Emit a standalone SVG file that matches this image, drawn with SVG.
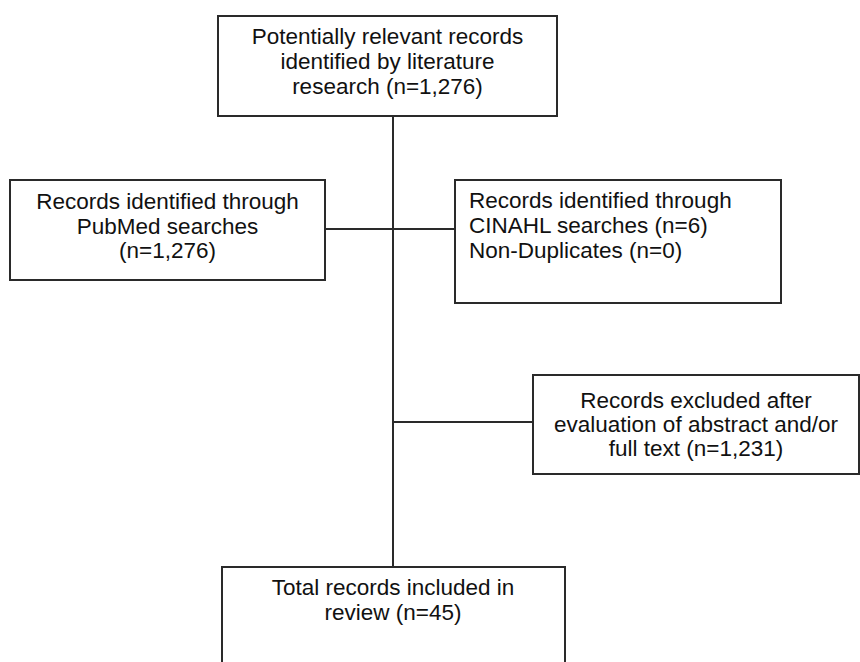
<svg xmlns="http://www.w3.org/2000/svg" width="860" height="662" viewBox="0 0 860 662">
<style>
.box{fill:#fff;stroke:#2a2a2a;stroke-width:2}
.ln{stroke:#2a2a2a;stroke-width:2;fill:none}
text{font-family:"Liberation Sans",Arial,sans-serif;font-size:22.5px;fill:#111}
.c{text-anchor:middle}
</style>
<rect width="860" height="662" fill="#fff"/>
<g id="connectors">
<line class="ln" x1="393" y1="116" x2="393" y2="567"/>
<line class="ln" x1="325" y1="229" x2="455" y2="229"/>
<line class="ln" x1="393" y1="422" x2="533" y2="422"/>
</g>
<g id="n1">
<rect class="box" x="218" y="16" width="339" height="100"/>
<text class="c" x="387.5" y="44">Potentially relevant records</text>
<text class="c" x="387.5" y="69">identified by literature</text>
<text class="c" x="387.5" y="94">research (n=1,276)</text>
</g>
<g id="n2">
<rect class="box" x="10" y="180" width="315" height="100"/>
<text class="c" x="167.5" y="209">Records identified through</text>
<text class="c" x="167.5" y="234">PubMed searches</text>
<text class="c" x="167.5" y="258">(n=1,276)</text>
</g>
<g id="n3">
<rect class="box" x="455" y="180" width="326" height="123"/>
<text x="469" y="208">Records identified through</text>
<text x="469" y="233">CINAHL searches (n=6)</text>
<text x="469" y="258">Non-Duplicates (n=0)</text>
</g>
<g id="n4">
<rect class="box" x="533" y="375" width="326" height="99"/>
<text class="c" x="696" y="408">Records excluded after</text>
<text class="c" x="696" y="432">evaluation of abstract and/or</text>
<text class="c" x="696" y="456">full text (n=1,231)</text>
</g>
<g id="n5">
<rect class="box" x="222" y="567" width="343" height="110"/>
<text class="c" x="393" y="595">Total records included in</text>
<text class="c" x="393" y="620">review (n=45)</text>
</g>
</svg>
